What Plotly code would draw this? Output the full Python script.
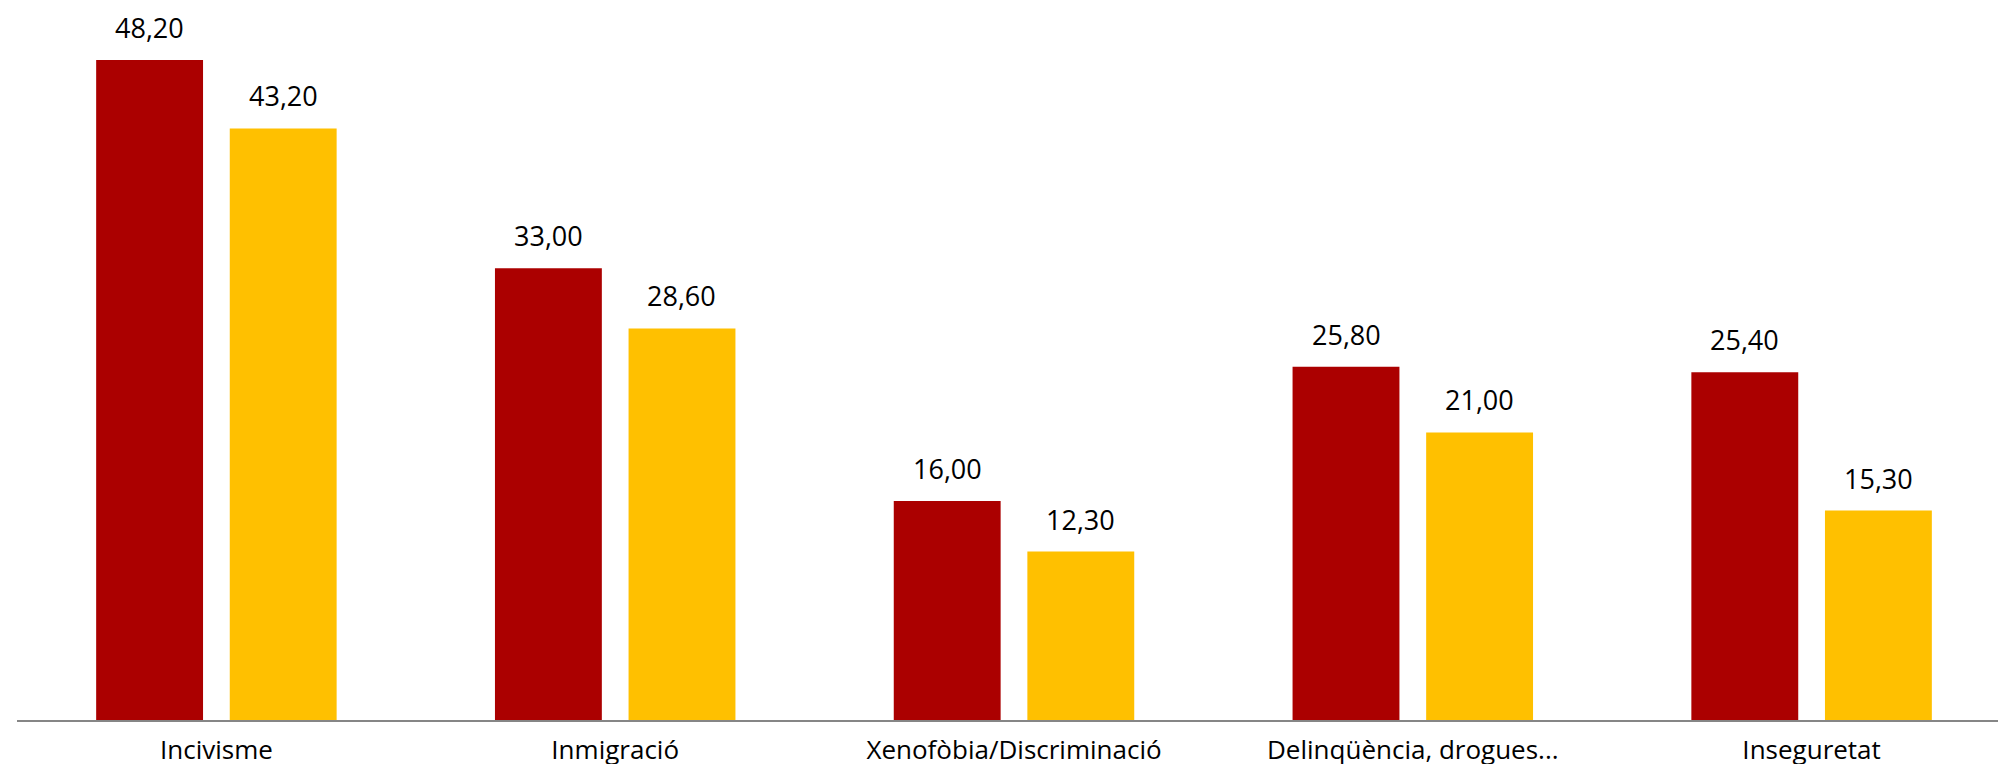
import plotly.graph_objects as go

categories = ["Incivisme", "Inmigració", "Xenofòbia/Discriminació", "Delinqüència, drogues...", "Inseguretat"]
serie_a = [48.20, 33.00, 16.00, 25.80, 25.40]
serie_b = [43.20, 28.60, 12.30, 21.00, 15.30]

RED = "#AB0000"
YELLOW = "#FFC000"
FONT = "Open Sans"

fig = go.Figure()
fig.add_trace(go.Bar(x=categories, y=serie_a, name="Sèrie 1", marker=dict(color=RED, line=dict(width=0))))
fig.add_trace(go.Bar(x=categories, y=serie_b, name="Sèrie 2", marker=dict(color=YELLOW, line=dict(width=0))))

def fmt(v):
    return f"{v:.2f}".replace(".", ",")

annotations = []
for series, shift in ((serie_a, -66.75), (serie_b, 66.75)):
    for c, v in zip(categories, series):
        annotations.append(dict(x=c, y=v, xref="x", yref="y", text=fmt(v), showarrow=False,
                                xshift=shift, yshift=12, yanchor="bottom",
                                font=dict(family=FONT, size=27, color="#000000")))

fig.update_layout(
    width=2006, height=764,
    margin=dict(l=8.5, r=2.5, t=0, b=52),
    paper_bgcolor="white", plot_bgcolor="white",
    barmode="group", bargap=0.33, bargroupgap=0.2,
    showlegend=False,
    annotations=annotations,
    font=dict(family=FONT, size=26, color="#000000"),
)
fig.update_xaxes(showline=True, linecolor="#868686", linewidth=2, ticks="", showgrid=False,
                 tickfont=dict(family=FONT, size=26, color="#000000"), ticklabelstandoff=6)
fig.update_yaxes(range=[0, 52.0], visible=False, showgrid=False, zeroline=False)

fig.write_html("out.html")
